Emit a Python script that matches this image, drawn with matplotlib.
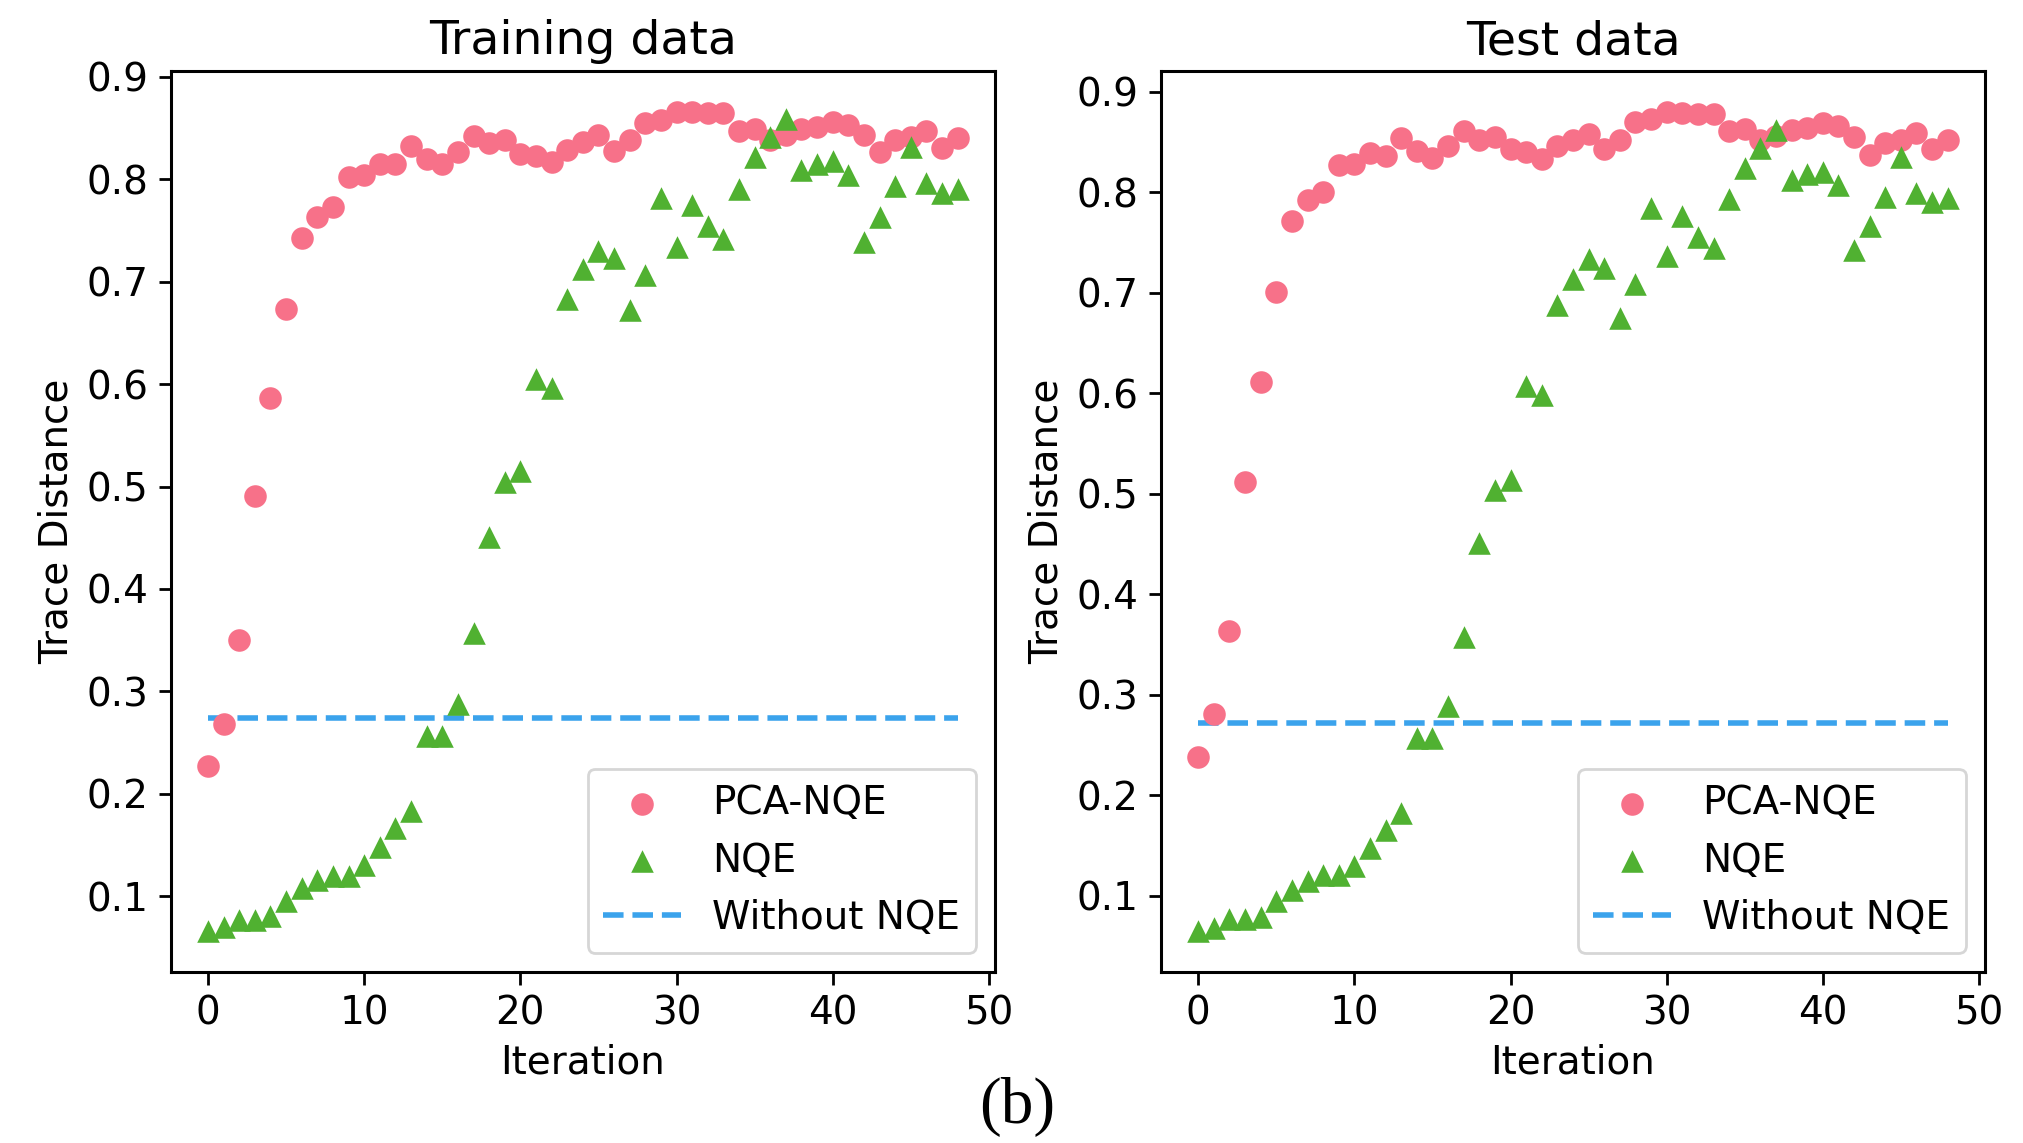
import matplotlib
matplotlib.use("Agg")
import matplotlib.pyplot as plt

# colours (seaborn husl palette)
PINK = "#f77189"
GREEN = "#50b131"
BLUE = "#3ba3ec"

iterations = list(range(49))

train_pca_nqe = [
    0.227, 0.268, 0.350, 0.491, 0.586, 0.673, 0.743, 0.763, 0.773, 0.802,
    0.804, 0.815, 0.815, 0.833, 0.820, 0.815, 0.827, 0.842, 0.835, 0.838,
    0.825, 0.823, 0.817, 0.829, 0.836, 0.843, 0.828, 0.838, 0.855, 0.858,
    0.866, 0.866, 0.865, 0.865, 0.847, 0.849, 0.838, 0.843, 0.849, 0.851,
    0.856, 0.853, 0.843, 0.827, 0.838, 0.841, 0.847, 0.831, 0.840,
]
train_nqe = [
    0.066, 0.070, 0.077, 0.077, 0.081, 0.095, 0.108, 0.116, 0.120, 0.120,
    0.130, 0.148, 0.167, 0.183, 0.256, 0.256, 0.288, 0.357, 0.451, 0.504,
    0.515, 0.605, 0.596, 0.683, 0.712, 0.730, 0.723, 0.672, 0.707, 0.782,
    0.734, 0.775, 0.754, 0.742, 0.791, 0.822, 0.841, 0.859, 0.809, 0.815,
    0.818, 0.804, 0.739, 0.763, 0.793, 0.832, 0.796, 0.787, 0.791,
]
train_without_nqe = 0.274

test_pca_nqe = [
    0.238, 0.281, 0.363, 0.512, 0.611, 0.701, 0.771, 0.792, 0.800, 0.827,
    0.828, 0.839, 0.836, 0.854, 0.841, 0.834, 0.846, 0.861, 0.852, 0.855,
    0.843, 0.840, 0.833, 0.846, 0.852, 0.858, 0.843, 0.852, 0.870, 0.873,
    0.880, 0.879, 0.878, 0.878, 0.861, 0.863, 0.852, 0.856, 0.862, 0.864,
    0.869, 0.866, 0.855, 0.837, 0.849, 0.852, 0.859, 0.843, 0.852,
]
test_nqe = [
    0.065, 0.068, 0.077, 0.077, 0.079, 0.095, 0.106, 0.115, 0.121, 0.121,
    0.130, 0.148, 0.166, 0.182, 0.257, 0.257, 0.289, 0.357, 0.451, 0.504,
    0.514, 0.607, 0.598, 0.688, 0.714, 0.733, 0.725, 0.675, 0.709, 0.784,
    0.736, 0.776, 0.755, 0.744, 0.793, 0.824, 0.844, 0.862, 0.812, 0.818,
    0.820, 0.807, 0.742, 0.766, 0.795, 0.835, 0.799, 0.790, 0.794,
]
test_without_nqe = 0.272

panel_titles = ["Training data", "Test data"]
series_labels = ["PCA-NQE", "NQE", "Without NQE"]

FS = 14


def draw_panel(ax, title, pca, nqe, base):
    ax.scatter(iterations, pca, s=66, marker="o", color=PINK, linewidths=0,
               label=series_labels[0], zorder=3)
    ax.scatter(iterations, nqe, s=66, marker="^", color=GREEN, linewidths=0,
               label=series_labels[1], zorder=3)
    ax.plot(iterations, [base] * len(iterations), linestyle="--", color=BLUE,
            linewidth=2.0, label=series_labels[2], zorder=2)
    ax.set_title(title, fontsize=17)
    ax.set_xlabel("Iteration", fontsize=FS)
    ax.set_ylabel("Trace Distance", fontsize=FS)
    ax.tick_params(labelsize=FS, width=1.0, length=4.5)
    for sp in ax.spines.values():
        sp.set_linewidth(1.1)
    ax.set_xticks([0, 10, 20, 30, 40, 50])
    ax.legend(loc="lower right", fontsize=FS)


fig = plt.figure(figsize=(2023 / 200, 1143 / 200), dpi=200)
ax1 = fig.add_axes([0.0843, 0.1496, 0.4076, 0.7885])
ax2 = fig.add_axes([0.5738, 0.1496, 0.4075, 0.7885])

draw_panel(ax1, panel_titles[0], train_pca_nqe, train_nqe, train_without_nqe)
draw_panel(ax2, panel_titles[1], test_pca_nqe, test_nqe, test_without_nqe)

fig.text(0.5027, 0.0315, "(b)", ha="center", va="center",
         fontsize=23.5, family="Liberation Serif")

fig.savefig("out.png", dpi=200)
